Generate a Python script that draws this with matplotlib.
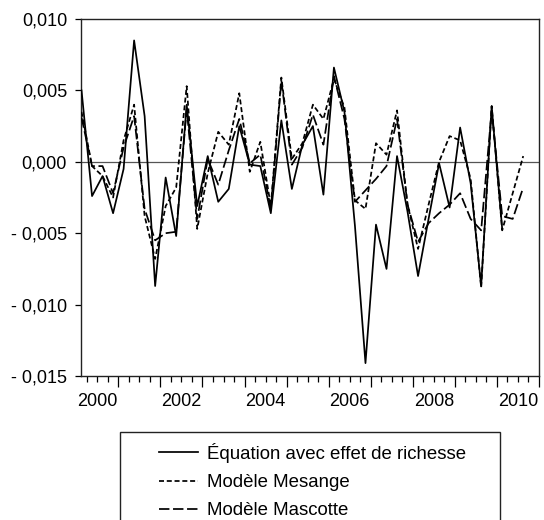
import matplotlib
matplotlib.use("Agg")
import matplotlib.pyplot as plt
from matplotlib.lines import Line2D
from matplotlib.patches import Rectangle
import numpy as np

plt.rcParams['font.family'] = ['Liberation Sans', 'DejaVu Sans']
plt.rcParams['lines.scale_dashes'] = False

# Quarterly observations 2000Q1 .. 2010Q3
quarters = [f"{y}Q{q}" for y in range(2000, 2011) for q in range(1, 5)][:43]

equation = [0.0050, -0.0024, -0.0010, -0.0036, -0.0005, 0.0085, 0.0032, -0.0087,
            -0.0011, -0.0052, 0.0040, -0.0031, 0.0004, -0.0028, -0.0019, 0.0025,
            -0.0002, -0.0003, -0.0036, 0.0029, -0.0019, 0.0012, 0.0025, -0.0023,
            0.0066, 0.0035, -0.0045, -0.0141, -0.0044, -0.0075, 0.0004, -0.0035,
            -0.0080, -0.0040, -0.0001, -0.0032, 0.0024, -0.0015, -0.0087, 0.0039,
            -0.0047]

mesange = [0.0035, -0.0003, -0.0010, -0.0025, 0.0015, 0.0040, -0.0038, -0.0068,
           -0.0031, -0.0018, 0.0053, -0.0047, -0.0008, 0.0021, 0.0012, 0.0048,
           -0.0007, 0.0014, -0.0031, 0.0059, 0.0002, 0.0013, 0.0040, 0.0030,
           0.0058, 0.0038, -0.0027, -0.0033, 0.0013, 0.0005, 0.0036, -0.0030,
           -0.0061, -0.0030, 0.0000, 0.0018, 0.0015, -0.0012, -0.0088, 0.0039,
           -0.0048, -0.0022, 0.0004]

mascotte = [0.0031, -0.0003, -0.0003, -0.0022, 0.0010, 0.0032, -0.0033, -0.0055,
            -0.0050, -0.0049, 0.0037, -0.0040, 0.0002, -0.0016, 0.0008, 0.0030,
            -0.0001, 0.0005, -0.0033, 0.0057, -0.0002, 0.0010, 0.0033, 0.0012,
            0.0060, 0.0030, -0.0028, -0.0020, -0.0012, -0.0003, 0.0030, -0.0030,
            -0.0056, -0.0043, -0.0036, -0.0030, -0.0022, -0.0040, -0.0048, 0.0036,
            -0.0038, -0.0040, -0.0018]

year_labels = ["2000", "2002", "2004", "2006", "2008", "2010"]
y_ticks = [0.010, 0.005, 0.000, -0.005, -0.010, -0.015]
y_tick_labels = ["0,010", "0,005", "0,000", "- 0,005", "- 0,010", "- 0,015"]
legend_labels = ["Équation avec effet de richesse", "Modèle Mesange", "Modèle Mascotte"]

W, H = 544, 520
fig = plt.figure(figsize=(W / 100, H / 100), dpi=100)
L, R, T, B = 81, 539, 19, 376
ax = fig.add_axes([L / W, 1 - B / H, (R - L) / W, (B - T) / H])

x_eq = np.arange(len(equation))
x_all = np.arange(len(mesange))
lw = 1.25
short_dash = (3.6, 2.0)
long_dash = (7.5, 2.6)
ax.axhline(0, color='#555555', lw=0.9, zorder=1)
ax.plot(x_eq, equation, color='black', lw=lw, zorder=3)
ax.plot(x_all, mesange, color='black', lw=lw, dashes=short_dash, zorder=3)
ax.plot(x_all, mascotte, color='black', lw=lw, dashes=long_dash, zorder=3)

ax.set_xlim(-0.05, 43.0)
ax.set_ylim(-0.015, 0.010)

# y axis
ax.set_yticks(y_ticks)
ax.set_yticklabels(y_tick_labels)
ax.tick_params(axis='y', direction='out', length=4, width=0.9, pad=6, labelsize=13)

# x axis: minor ticks between quarters, longer ticks between years
nq = len(quarters)
ax.set_xticks([3.5 + 4 * i for i in range(11)])
ax.set_xticklabels([])
ax.set_xticks([k + 0.5 for k in range(nq)], minor=True)
ax.tick_params(axis='x', which='major', direction='out', length=8, width=0.9)
ax.tick_params(axis='x', which='minor', direction='out', length=4, width=0.9)

sec = ax.secondary_xaxis('bottom')
sec.set_xticks([quarters.index(f"{y}Q1") + 1.5 for y in year_labels],
               labels=year_labels)
sec.tick_params(length=0, pad=12, labelsize=13)
sec.spines['bottom'].set_visible(False)

for s in ax.spines.values():
    s.set_linewidth(1.0)
    s.set_color('#222222')

# legend
fig.patches.append(Rectangle((120 / W, 1 - 540 / H), 380 / W, 108 / H,
                             transform=fig.transFigure, fill=False,
                             edgecolor='#222222', lw=1.0))
handles = [Line2D([], [], color='black', lw=lw),
           Line2D([], [], color='black', lw=lw, dashes=short_dash),
           Line2D([], [], color='black', lw=lw, dashes=long_dash)]
fig.legend(handles, legend_labels, loc='upper left',
           bbox_to_anchor=(144 / W, 1 - 428 / H), frameon=False,
           fontsize=13.4, handlelength=2.1, handletextpad=0.5,
           labelspacing=0.6, borderpad=0.3)

fig.savefig("out.png", dpi=100)
